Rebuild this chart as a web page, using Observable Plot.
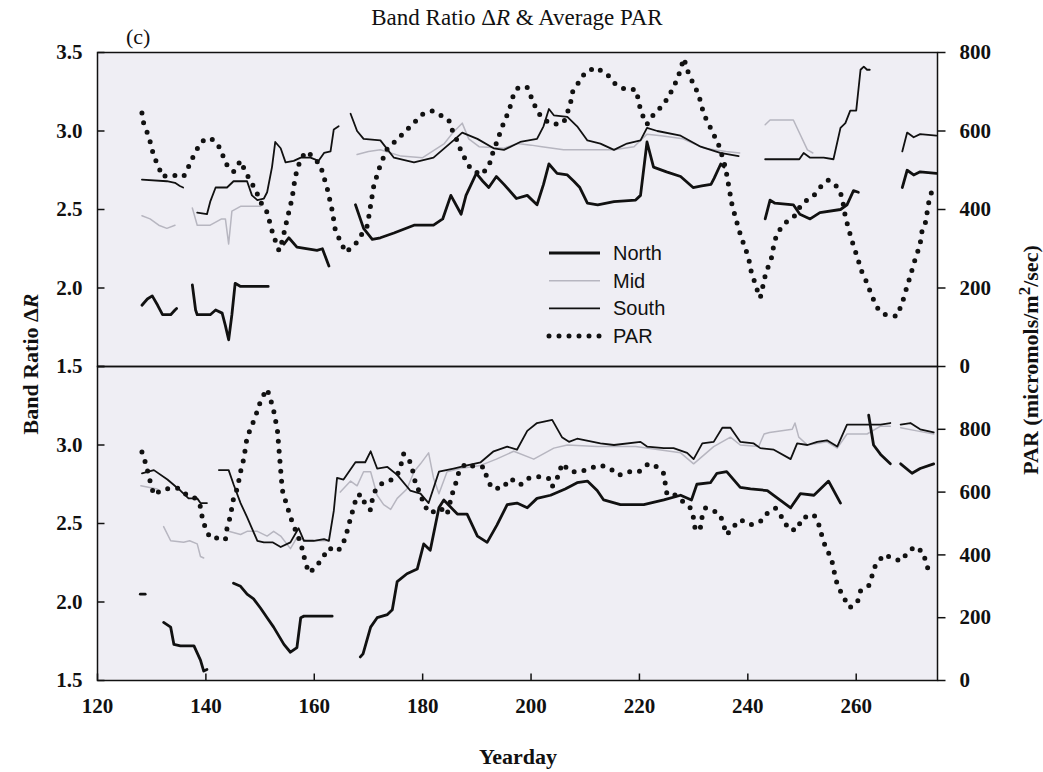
<!DOCTYPE html>
<html><head><meta charset="utf-8">
<script src="https://cdn.jsdelivr.net/npm/d3@7"></script>
<script src="https://cdn.jsdelivr.net/npm/@observablehq/plot@0.6"></script>
<style>
html,body{margin:0;padding:0;background:#fff;}
#chart{width:1043px;height:772px;position:relative;}
</style></head><body><div id="chart"></div>
<script>
// ---------- tick values / labels ----------
const yearTicks = [120, 140, 160, 180, 200, 220, 240, 260];
const ratioTicks = [1.5, 2.0, 2.5, 3.0, 3.5];
const parTicks = [0, 200, 400, 600, 800];
const parAxisMax = {top: 800, bottom: 1000};
const seriesNames = ["North", "Mid", "South", "PAR"];

// ---------- top panel (band ratio, segments of [yearday, value]) ----------
const topNorth = [
  [[128.2,1.89],[129.2,1.93],[130.1,1.95],[131.1,1.89],[132.0,1.83],[133.5,1.83],[134.3,1.86],[134.6,1.87]],
  [[137.5,2.02],[138.1,1.86],[138.4,1.83],[140.8,1.83],[141.8,1.86],[143.0,1.84],[143.6,1.76],[144.2,1.67],[144.8,1.83],[145.4,2.03],[146.4,2.01],[151.5,2.01]],
  [[154.4,2.28],[155.3,2.32],[156.8,2.26],[160.5,2.24],[161.5,2.25],[162.7,2.14]],
  [[167.6,2.53],[169.1,2.38],[170.7,2.31],[172.2,2.32],[174.7,2.35],[178.4,2.40],[182.0,2.40],[183.7,2.44],[185.2,2.59],[187.1,2.47],[188.0,2.59],[189.9,2.73],[191.1,2.68],[192.2,2.64],[193.6,2.71],[195.0,2.66],[197.3,2.57],[199.3,2.59],[201.1,2.53],[202.3,2.66],[203.3,2.79],[204.8,2.73],[206.7,2.72],[207.9,2.68],[209.0,2.64],[210.4,2.54],[212.3,2.53],[215.3,2.55],[219.3,2.56],[220.2,2.59],[221.4,2.93],[222.6,2.77],[225.0,2.74],[227.6,2.71],[229.9,2.64],[231.5,2.65],[233.2,2.66],[233.8,2.70],[235.0,2.79],[235.6,2.77]],
  [[243.2,2.44],[244.1,2.56],[245.0,2.54],[248.4,2.53],[249.6,2.47],[251.5,2.44],[253.3,2.48],[257.1,2.50],[258.3,2.53],[259.5,2.62],[260.4,2.61]],
  [[268.5,2.64],[269.4,2.75],[270.6,2.72],[271.8,2.74],[274.8,2.73]]
];
const topMid = [
  [[128.2,2.46],[129.7,2.44],[131.3,2.40],[132.8,2.38],[134.3,2.40]],
  [[137.5,2.51],[138.4,2.40],[140.8,2.40],[142.9,2.44],[143.6,2.44],[144.2,2.28],[144.8,2.49],[146.4,2.52],[150.1,2.52]],
  [[167.9,2.85],[170.0,2.87],[172.2,2.88],[176.0,2.84],[180.0,2.83],[184.0,2.92],[185.6,2.99],[187.3,3.05],[188.5,2.95],[190.4,2.90],[195.0,2.89],[197.5,2.92],[200.0,2.91],[202.0,2.90],[206.0,2.88],[215.3,2.88],[219.0,2.90],[221.4,2.98],[224.0,2.97],[228.0,2.95],[232.0,2.89],[236.0,2.87],[238.5,2.86]],
  [[243.2,3.04],[244.1,3.07],[248.4,3.07],[251.0,2.88],[252.0,2.86]]
];
const topSouth = [
  [[128.2,2.69],[132.8,2.68],[134.3,2.67],[135.2,2.65],[135.8,2.64]],
  [[138.4,2.48],[140.2,2.47],[140.8,2.55],[141.8,2.64],[143.9,2.64],[145.1,2.68],[147.6,2.68],[148.5,2.59],[149.5,2.56],[150.7,2.57],[151.3,2.61],[152.2,2.77],[152.8,2.93],[153.8,2.89],[154.7,2.80],[156.2,2.81],[157.5,2.83],[159.3,2.83],[160.8,2.81],[161.8,2.86],[163.0,2.87],[163.6,3.01],[164.5,3.03]],
  [[166.7,3.11],[167.9,3.00],[169.1,2.95],[172.2,2.94],[174.7,2.83],[178.4,2.80],[182.0,2.83],[185.7,2.94],[187.3,2.99],[190.1,2.95],[193.1,2.89],[195.0,2.88],[198.0,2.93],[201.1,2.95],[202.3,3.03],[203.3,3.14],[204.2,3.10],[206.7,3.09],[208.5,3.03],[210.4,2.94],[212.8,2.92],[215.3,2.88],[217.7,2.92],[220.2,2.94],[221.4,3.02],[223.3,3.00],[227.6,2.97],[231.3,2.90],[234.9,2.86],[238.3,2.84]],
  [[243.2,2.82],[249.5,2.82],[250.3,2.86],[251.5,2.83],[254.0,2.83],[255.8,2.82],[257.1,3.02],[258.0,3.05],[258.9,3.13],[260.0,3.13],[260.8,3.39],[261.4,3.41],[262.0,3.39],[262.5,3.39]],
  [[268.5,2.87],[269.4,2.99],[270.6,2.96],[271.8,2.98],[274.8,2.97]]
];
const topPAR = [[128.2,646],[128.5,621],[129.2,595],[129.8,569],[130.4,535],[131.3,509],[131.9,484],[133.5,488],[135.9,484],[136.8,509],[138.1,548],[139.3,574],[140.8,582],[142.1,569],[143.0,543],[143.6,518],[145.1,496],[146.4,524],[147.3,496],[149.2,449],[150.1,419],[151.3,393],[152.2,346],[152.8,321],[153.5,295],[154.1,321],[155.0,376],[155.9,428],[156.5,484],[157.5,531],[158.7,548],[161.1,514],[162.4,453],[163.3,398],[163.9,346],[165.8,291],[167.6,312],[169.8,359],[170.4,411],[171.0,462],[172.2,514],[173.5,556],[175.3,578],[176.8,599],[178.4,621],[179.9,642],[181.8,651],[183.3,640],[184.8,629],[185.4,604],[186.4,574],[187.0,552],[187.9,527],[188.8,505],[190.7,488],[192.2,509],[192.8,539],[193.4,561],[194.7,612],[195.9,651],[196.8,694],[197.7,712],[199.3,711],[200.2,681],[201.1,651],[202.3,629],[204.2,617],[206.0,621],[206.7,646],[207.3,672],[207.6,698],[208.8,724],[210.0,749],[211.9,762],[214.0,745],[215.6,719],[217.4,706],[219.3,706],[219.9,676],[220.2,651],[221.4,617],[222.6,642],[224.5,668],[226.3,711],[227.3,745],[228.2,785],[229.1,745],[230.0,719],[230.9,694],[231.9,642],[232.8,617],[233.7,591],[234.6,565],[235.3,535],[235.9,505],[236.5,458],[237.1,411],[237.7,381],[238.3,351],[238.9,325],[239.6,299],[240.2,273],[240.5,248],[241.1,222],[241.7,196],[242.3,175],[243.2,231],[243.8,256],[244.5,282],[244.8,312],[245.4,338],[246.6,363],[248.5,381],[250.0,415],[252.2,436],[253.7,462],[254.9,475],[256.5,458],[257.4,432],[258.0,381],[258.6,351],[259.2,321],[259.9,291],[260.5,265],[261.1,239],[262.0,213],[262.9,179],[264.1,145],[265.4,132],[267.5,128],[268.5,162],[269.4,205],[270.0,231],[270.6,261],[271.2,286],[271.8,312],[272.1,342],[272.8,368],[273.1,394],[273.4,419],[274.0,449]];

// ---------- bottom panel ----------
const bottomNorth = [
  [[127.9,2.05],[128.8,2.05]],
  [[132.2,1.87],[133.5,1.84],[134.1,1.73],[135.3,1.72],[137.8,1.72],[139.0,1.63],[139.6,1.56],[140.2,1.57]],
  [[145.1,2.12],[146.4,2.10],[147.6,2.05],[148.8,2.02],[150.1,1.96],[151.3,1.90],[152.5,1.84],[154.4,1.73],[155.6,1.68],[156.8,1.71],[157.5,1.90],[158.1,1.91],[163.3,1.91]],
  [[168.5,1.65],[169.0,1.67],[170.4,1.84],[171.6,1.90],[173.5,1.92],[174.4,1.95],[175.3,2.13],[177.1,2.18],[179.0,2.21],[180.2,2.37],[181.4,2.33],[183.0,2.60],[183.9,2.65],[186.4,2.56],[188.2,2.56],[190.1,2.42],[191.9,2.38],[193.7,2.49],[195.6,2.62],[197.4,2.63],[199.3,2.60],[201.1,2.66],[203.6,2.68],[206.3,2.72],[208.5,2.76],[210.4,2.77],[212.2,2.71],[213.4,2.65],[216.5,2.62],[220.8,2.62],[224.5,2.65],[227.6,2.68],[229.6,2.65],[230.6,2.75],[233.1,2.76],[234.3,2.82],[236.1,2.83],[238.6,2.73],[240.5,2.72],[243.6,2.71],[247.9,2.60],[249.7,2.69],[252.2,2.68],[254.9,2.77],[257.1,2.63]],
  [[262.3,3.19],[263.2,3.00],[264.5,2.94],[266.3,2.88]],
  [[268.2,2.88],[270.3,2.82],[271.8,2.85],[274.3,2.88]]
];
const bottomMid = [
  [[128.0,2.74],[131.0,2.72]],
  [[132.2,2.48],[133.5,2.39],[135.9,2.38],[137.0,2.39],[138.4,2.37],[139.0,2.29],[139.6,2.28]],
  [[143.6,2.48],[144.2,2.45],[146.4,2.43],[147.6,2.45],[149.5,2.45],[151.3,2.42],[152.5,2.45],[153.8,2.42],[155.6,2.34],[156.8,2.41],[158.5,2.39],[161.1,2.39],[162.8,2.39]],
  [[164.8,2.70],[166.7,2.77],[167.9,2.74],[169.1,2.83],[170.4,2.83],[171.6,2.68],[172.8,2.62],[174.1,2.59],[175.3,2.66],[177.1,2.72],[178.4,2.83],[179.6,2.88],[181.1,2.95],[182.0,2.79],[183.0,2.69],[184.5,2.83],[186.9,2.85],[190.7,2.87],[193.6,2.91],[196.8,2.96],[200.5,2.91],[204.2,2.98],[206.7,3.00],[212.2,2.99],[219.3,2.99],[227.6,2.95],[230.0,2.88],[233.7,2.99],[236.8,3.05],[238.6,3.00],[242.0,2.99],[243.0,3.07],[244.0,3.08],[248.2,3.10],[248.7,3.14],[249.4,3.05],[251.0,3.00],[254.6,3.02],[256.5,2.98],[258.3,3.07],[262.0,3.07],[264.5,3.12],[266.3,3.12]],
  [[268.2,3.11],[271.2,3.09],[274.3,3.07]]
];
const bottomSouth = [
  [[128.2,2.82],[130.4,2.84],[132.9,2.78],[135.3,2.71],[136.8,2.66],[138.4,2.66],[139.0,2.63],[140.2,2.63]],
  [[142.4,2.84],[144.2,2.84],[145.1,2.75],[146.4,2.63],[147.6,2.54],[149.5,2.39],[150.7,2.38],[152.3,2.38],[153.8,2.35],[155.6,2.38],[157.1,2.47],[158.1,2.39],[159.9,2.39],[161.8,2.40],[162.7,2.39],[163.6,2.58],[164.2,2.79],[165.4,2.78],[167.6,2.89],[169.4,2.89],[170.4,2.96],[171.6,2.85],[173.5,2.86],[175.3,2.81],[177.7,2.71],[179.6,2.69],[181.1,2.63],[183.0,2.83],[185.7,2.85],[188.2,2.87],[190.7,2.89],[193.1,2.96],[195.6,2.99],[197.4,2.97],[199.3,3.09],[201.1,3.14],[203.9,3.16],[205.7,3.05],[207.0,3.02],[208.5,3.04],[212.8,3.01],[215.3,3.00],[220.2,3.02],[221.4,2.99],[224.5,2.98],[226.3,2.98],[228.8,2.95],[230.0,2.91],[231.6,3.01],[233.7,3.02],[235.3,3.11],[236.8,3.11],[238.6,3.02],[241.1,3.01],[242.3,2.98],[244.8,2.97],[247.9,2.91],[249.1,3.01],[251.0,3.00],[252.8,3.02],[254.6,3.03],[256.5,2.99],[258.3,3.13],[262.6,3.13],[264.5,3.13],[266.3,3.14]],
  [[268.2,3.13],[270.0,3.14],[271.8,3.10],[274.3,3.08]]
];
const bottomPAR = [[128.2,728],[128.9,691],[129.8,628],[130.4,591],[131.9,607],[133.5,612],[135.0,612],[136.5,591],[138.1,580],[139.0,554],[139.3,522],[139.9,485],[140.8,454],[142.1,454],[143.6,448],[143.9,485],[144.5,522],[145.1,580],[145.8,612],[146.4,665],[147.0,707],[147.6,775],[148.5,812],[149.2,844],[149.8,876],[150.4,902],[151.3,928],[151.9,897],[152.5,860],[153.2,797],[153.5,733],[153.8,670],[154.1,607],[155.0,554],[155.9,506],[157.5,438],[158.4,374],[159.0,343],[160.2,359],[161.5,390],[162.7,422],[164.2,411],[165.1,427],[165.8,459],[166.7,517],[167.3,554],[167.9,591],[168.8,591],[169.4,559],[170.4,543],[170.7,575],[171.3,607],[172.5,628],[174.1,638],[175.3,654],[175.9,680],[176.5,722],[177.7,696],[178.4,654],[178.7,623],[179.6,596],[180.2,559],[181.4,533],[183.3,549],[184.5,528],[185.4,591],[186.1,628],[186.7,665],[187.9,691],[189.7,680],[191.3,680],[191.9,643],[192.8,612],[194.7,612],[196.2,643],[198.0,623],[199.3,643],[201.4,649],[203.3,643],[203.9,617],[205.1,654],[205.7,691],[207.3,665],[209.1,665],[211.0,677],[212.8,686],[214.6,675],[216.2,654],[218.0,665],[219.9,665],[221.7,691],[223.3,680],[224.5,659],[224.8,623],[225.1,591],[226.6,591],[229.4,549],[230.0,517],[230.3,480],[231.2,480],[231.5,517],[232.2,549],[233.4,543],[234.9,528],[235.5,496],[236.1,464],[237.4,491],[238.6,512],[240.5,496],[242.3,506],[243.6,533],[245.1,549],[246.4,517],[247.6,480],[249.1,480],[250.0,517],[252.2,528],[253.1,496],[253.7,459],[254.3,427],[255.2,396],[255.8,364],[256.1,327],[256.8,295],[257.7,264],[258.8,232],[260.2,248],[260.8,285],[262.3,301],[262.9,332],[263.5,364],[265.1,401],[268.2,380],[269.7,411],[270.9,427],[272.5,406],[272.8,374],[273.6,343]];

// ---------- build tables ----------
function segRows(panel, series, segs) {
  const out = [];
  segs.forEach((seg, i) => seg.forEach(([day, v]) => out.push({panel, series, seg: series + "-" + panel + "-" + i, day, v})));
  return out;
}
function parRows(panel, pts) {
  return pts.map(([day, par]) => ({panel, day, par}));
}
const northRows = [...segRows("top", "North", topNorth), ...segRows("bottom", "North", bottomNorth)];
const midRows = [...segRows("top", "Mid", topMid), ...segRows("bottom", "Mid", bottomMid)];
const southRows = [...segRows("top", "South", topSouth), ...segRows("bottom", "South", bottomSouth)];
const parData = [...parRows("top", topPAR), ...parRows("bottom", bottomPAR)];

// PAR lives on the secondary (right) axis: map it onto the ratio axis range
const yDomain = [1.5, 3.5];
const parToY = (par, panel) => yDomain[0] + (yDomain[1] - yDomain[0]) * par / parAxisMax[panel];

const leftTickRows = ["top", "bottom"].flatMap(panel => ratioTicks.map(v => ({panel, v})));
const leftLabelRows = [...ratioTicks.map(v => ({panel: "top", v})), ...ratioTicks.filter(v => v < 3.5).map(v => ({panel: "bottom", v}))];
const rightRows = ["top", "bottom"].flatMap(panel => parTicks.map(p => ({panel, p, y: parToY(p, panel)})));

const tickIn = {draw(ctx) { ctx.moveTo(0, 0); ctx.lineTo(7, 0); }};
const tickOut = {draw(ctx) { ctx.moveTo(0, 0); ctx.lineTo(8, 0); }};
const tickUp = {draw(ctx) { ctx.moveTo(0, 0); ctx.lineTo(0, -7); }};

const INK = "#111";
const MID = "#b7b6c0";
const SERIF = "'Liberation Serif', 'Times New Roman', serif";

const svg = Plot.plot({
  width: 1043,
  height: 772,
  marginLeft: 97,
  marginRight: 106,
  marginTop: 52,
  marginBottom: 92,
  x: {domain: [120, 275], axis: null},
  y: {domain: yDomain, axis: null},
  fy: {domain: ["top", "bottom"], axis: null, padding: 0},
  style: {fontFamily: SERIF, color: INK, background: "white", overflow: "visible"},
  marks: [
    Plot.frame({fill: "#efeef4", stroke: "none"}),
    Plot.line(midRows, {x: "day", y: "v", z: "seg", fy: "panel", stroke: MID, strokeWidth: 1.5}),
    Plot.line(southRows, {x: "day", y: "v", z: "seg", fy: "panel", stroke: INK, strokeWidth: 1.8}),
    Plot.line(northRows, {x: "day", y: "v", z: "seg", fy: "panel", stroke: INK, strokeWidth: 2.8}),
    Plot.line(parData, {x: "day", y: d => parToY(d.par, d.panel), z: "panel", fy: "panel", stroke: INK, strokeWidth: 5, strokeDasharray: "0 10", strokeLinecap: "round"}),
    Plot.frame({stroke: INK, strokeWidth: 1.5}),
    // left axis
    Plot.dot(leftTickRows, {y: "v", fy: "panel", frameAnchor: "left", symbol: tickIn, fill: "none", stroke: INK, strokeWidth: 1.5}),
    Plot.text(leftLabelRows, {y: "v", fy: "panel", text: d => d.v.toFixed(1), frameAnchor: "left", dx: -15, textAnchor: "end", fontWeight: "bold", fontSize: 21}),
    // right axis (PAR)
    Plot.dot(rightRows, {y: "y", fy: "panel", frameAnchor: "right", symbol: tickOut, fill: "none", stroke: INK, strokeWidth: 1.5}),
    Plot.text(rightRows, {y: "y", fy: "panel", text: d => String(d.p), frameAnchor: "right", dx: 22, textAnchor: "start", fontWeight: "bold", fontSize: 21}),
    // x axis (bottom panel only)
    Plot.dot(yearTicks, {x: d => d, fy: () => "bottom", frameAnchor: "bottom", symbol: tickUp, fill: "none", stroke: INK, strokeWidth: 1.5}),
    Plot.text(yearTicks, {x: d => d, fy: () => "bottom", text: d => String(d), frameAnchor: "bottom", dy: 32, fontWeight: "bold", fontSize: 21})
  ]
});

document.getElementById("chart").appendChild(svg);

// ---------- titles, axis labels, legend ----------
const s = d3.select(svg);
const title = s.append("text").attr("x", 517).attr("y", 25).attr("text-anchor", "middle")
  .attr("font-family", SERIF).attr("font-size", 23).attr("fill", INK);
title.append("tspan").text("Band Ratio Δ");
title.append("tspan").attr("font-style", "italic").text("R");
title.append("tspan").text(" & Average PAR");

s.append("text").attr("x", 126).attr("y", 44).attr("text-anchor", "start").attr("font-family", SERIF).attr("font-size", 22).attr("fill", INK).text("(c)");

const yl = s.append("text").attr("transform", "translate(30,364) rotate(-90)").attr("text-anchor", "middle")
  .attr("dy", "0.35em").attr("font-family", SERIF).attr("font-size", 22).attr("font-weight", "bold").attr("fill", INK);
yl.append("tspan").text("Band Ratio Δ");
yl.append("tspan").attr("font-style", "italic").text("R");

const yr = s.append("text").attr("transform", "translate(1030,360) rotate(-90)").attr("text-anchor", "middle")
  .attr("dy", "0.35em").attr("font-family", SERIF).attr("font-size", 22).attr("font-weight", "bold").attr("fill", INK);
yr.append("tspan").text("PAR (micromols/m");
yr.append("tspan").attr("dy", -8).attr("font-size", 17).text("2");
yr.append("tspan").attr("dy", 8).text("/sec)");

s.append("text").attr("x", 518).attr("y", 764).attr("text-anchor", "middle").attr("font-family", SERIF)
  .attr("font-size", 22).attr("font-weight", "bold").attr("fill", INK).text("Yearday");

const legendStyle = [
  {stroke: INK, width: 2.8, dash: null},
  {stroke: MID, width: 1.5, dash: null},
  {stroke: INK, width: 1.8, dash: null},
  {stroke: INK, width: 5, dash: "0 10"}
];
seriesNames.forEach((name, i) => {
  const y = 253 + i * 27.7;
  const st = legendStyle[i];
  const ln = s.append("line").attr("x1", 549).attr("x2", 600).attr("y1", y).attr("y2", y)
    .attr("stroke", st.stroke).attr("stroke-width", st.width);
  if (st.dash) ln.attr("stroke-dasharray", st.dash).attr("stroke-linecap", "round");
  s.append("text").attr("x", 613).attr("y", y).attr("dy", "0.35em").attr("text-anchor", "start")
    .attr("font-family", "'Liberation Sans', Arial, sans-serif").attr("font-size", 20).attr("fill", INK).text(name);
});
</script></body></html>
